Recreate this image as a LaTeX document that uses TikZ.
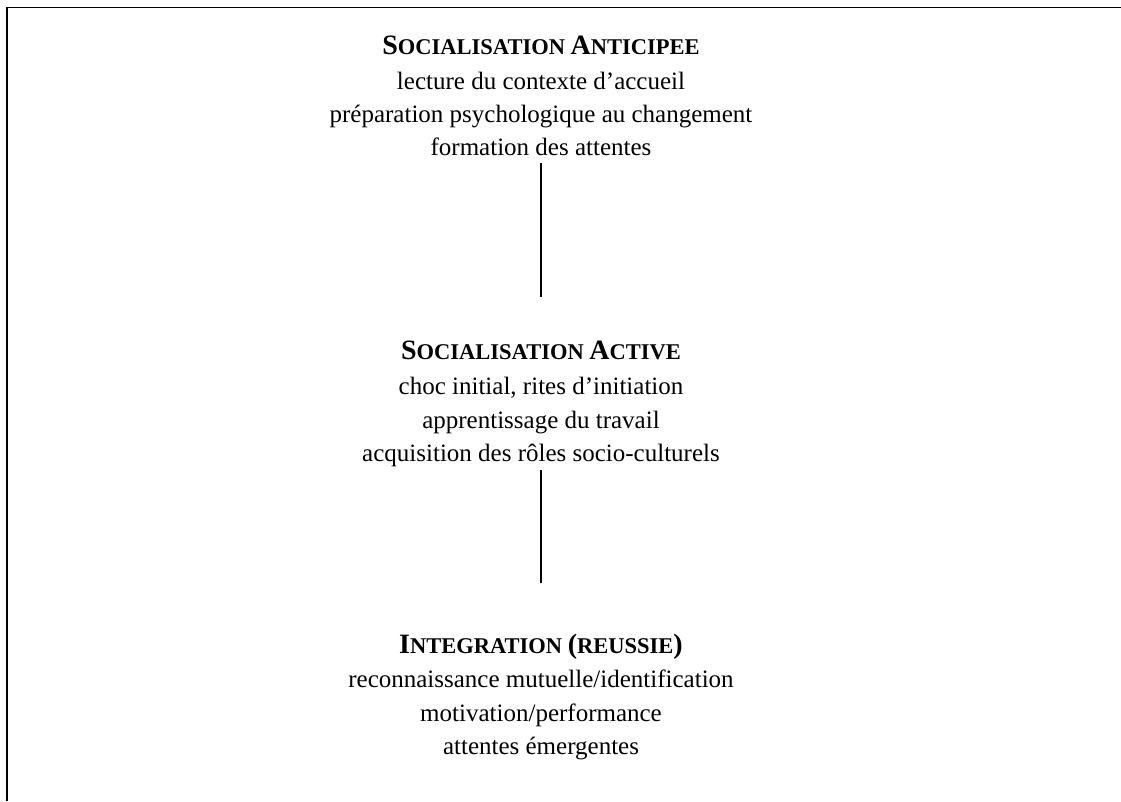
\documentclass[tikz,border=0pt]{standalone}
\usepackage{fontspec}
\setmainfont{Liberation Serif}
% bold title with simulated small capitals
\newcommand\scw[2]{{\fontsize{28}{30}\selectfont #1}{\fontsize{22.5}{30}\selectfont #2}}
\tikzset{
  body/.style={anchor=base, inner sep=0pt, font=\fontsize{25}{30}\selectfont},
  heading/.style={anchor=base, inner sep=0pt, font=\bfseries\fontsize{22.5}{30}\selectfont},
  frameline/.style={line width=1.7pt},
  conn/.style={line width=1.5pt}
}
\begin{document}
\begin{tikzpicture}[x=1pt,y=-1pt]
\useasboundingbox (0,0) rectangle (1121,801);
% open frame: top and left sides only
\draw[frameline] (1121,7.5) -- (7,7.5) -- (7,801);

% stage 1
\node[heading] (t1) at (541,54) {\scw{S}{OCIALISATION} \scw{A}{NTICIPEE}};
\node[body] (a1) at (541,89) {lecture du contexte d’accueil};
\node[body] (a2) at (541,122) {préparation psychologique au changement};
\node[body] (a3) at (541,155) {formation des attentes};

% stage 2
\node[heading] (t2) at (541,359) {\scw{S}{OCIALISATION} \scw{A}{CTIVE}};
\node[body] (b1) at (541,394) {choc initial, rites d’initiation};
\node[body] (b2) at (541,428) {apprentissage du travail};
\node[body] (b3) at (541,461) {acquisition des rôles socio-culturels};

% stage 3
\node[heading] (t3) at (541,653) {\scw{I}{NTEGRATION} \scw{(}{}\scw{}{REUSSIE}\scw{)}{}};
\node[body] (c1) at (541,687) {reconnaissance mutuelle/identification};
\node[body] (c2) at (541,721) {motivation/performance};
\node[body] (c3) at (541,754) {attentes émergentes};

% links between stages
\draw[conn] ([yshift=-8pt]a3.base) -- ([yshift=62pt]t2.base);
\draw[conn] ([yshift=-9pt]b3.base) -- ([yshift=70pt]t3.base);
\end{tikzpicture}
\end{document}
